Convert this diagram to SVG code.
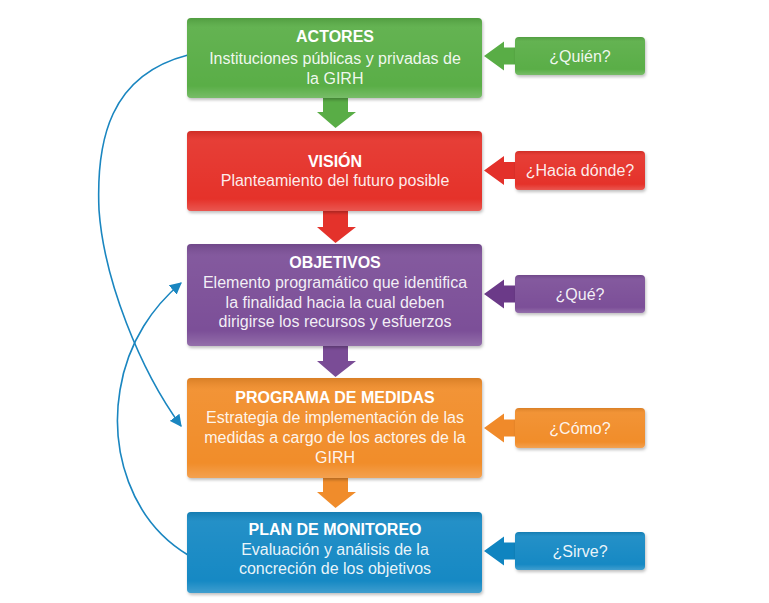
<svg xmlns="http://www.w3.org/2000/svg" width="769" height="603" viewBox="0 0 769 603">
<defs>
<style>
.t{font-family:"Liberation Sans",Arial,sans-serif;font-size:16px;fill:#fff;text-anchor:middle}
.b{font-weight:bold}
.l{fill-opacity:0.92}
.box{filter:url(#sh)}
.ov{fill:url(#shade)}
.con{fill:none;stroke:#1a86c0;stroke-width:1.6;marker-end:url(#ah)}
</style>
<linearGradient id="shade" x1="0" y1="0" x2="0" y2="1">
<stop offset="0" stop-color="#000" stop-opacity="0.10"/>
<stop offset="0.12" stop-color="#fff" stop-opacity="0.06"/>
<stop offset="0.85" stop-color="#fff" stop-opacity="0"/>
<stop offset="1" stop-color="#fff" stop-opacity="0.18"/>
</linearGradient>
<filter id="sh" x="-5%" y="-10%" width="110%" height="125%">
<feDropShadow dx="1" dy="2" stdDeviation="1.5" flood-color="#000" flood-opacity="0.25"/>
</filter>
<marker id="ah" markerWidth="12" markerHeight="12" refX="9" refY="5" orient="auto" markerUnits="userSpaceOnUse" viewBox="0 0 10 10">
<path d="M0,0 L10,5 L0,10 Z" fill="#1a86c0"/>
</marker>
</defs>
<rect width="769" height="603" fill="#fff"/>

<g id="connectors">
<path class="con" d="M188,55 C110,75 96,140 99,210 C104,280 140,370 181,426"/>
<path class="con" d="M188,555 C130,520 110,450 120,390 C128,340 155,305 181,283"/>
<polygon fill="#59ad46" points="323,98 348,98 348,112 356,112 335.5,128 317,112 323,112"/>
<polygon fill="#e4322b" points="323,211 348,211 348,227 356,227 335.5,243 317,227 323,227"/>
<polygon fill="#7a4c96" points="323,346 348,346 348,361 356,361 335.5,377 317,361 323,361"/>
<polygon fill="#f08c2b" points="323,478 348,478 348,492 356,492 335.5,508 317,492 323,492"/>
<polygon fill="#59ad46" points="484,56 504,41.5 504,47.5 518,47.5 518,64.5 504,64.5 504,70.5"/>
<polygon fill="#e3302a" points="484,170.5 504,156 504,162 518,162 518,179 504,179 504,185"/>
<polygon fill="#6b3a88" points="484,294 504,279.5 504,285.5 518,285.5 518,302.5 504,302.5 504,308.5"/>
<polygon fill="#f08a2a" points="484,428 504,413.5 504,419.5 518,419.5 518,436.5 504,436.5 504,442.5"/>
<polygon fill="#0f84c0" points="484,551 504,536.5 504,542.5 518,542.5 518,559.5 504,559.5 504,565.5"/>
</g>

<g id="actores">
<rect class="box" x="187" y="18" width="295" height="80" rx="4" fill="#5aae47"/>
<rect class="ov" x="187" y="18" width="295" height="80" rx="4"/>
<text class="t b" x="335" y="42">ACTORES</text>
<text class="t l" x="335" y="64">Instituciones públicas y privadas de</text>
<text class="t l" x="335" y="84">la GIRH</text>
</g>
<g id="vision">
<rect class="box" x="187" y="131" width="295" height="80" rx="4" fill="#e5332a"/>
<rect class="ov" x="187" y="131" width="295" height="80" rx="4"/>
<text class="t b" x="335" y="167">VISIÓN</text>
<text class="t l" x="335" y="186">Planteamiento del futuro posible</text>
</g>
<g id="objetivos">
<rect class="box" x="187" y="244" width="295" height="102" rx="4" fill="#7c4f98"/>
<rect class="ov" x="187" y="244" width="295" height="102" rx="4"/>
<text class="t b" x="335" y="268">OBJETIVOS</text>
<text class="t l" x="335" y="288">Elemento programático que identifica</text>
<text class="t l" x="335" y="308">la finalidad hacia la cual deben</text>
<text class="t l" x="335" y="327">dirigirse los recursos y esfuerzos</text>
</g>
<g id="programa">
<rect class="box" x="187" y="378" width="295" height="100" rx="4" fill="#f18d2c"/>
<rect class="ov" x="187" y="378" width="295" height="100" rx="4"/>
<text class="t b" x="335" y="403">PROGRAMA DE MEDIDAS</text>
<text class="t l" x="335" y="423">Estrategia de implementación de las</text>
<text class="t l" x="335" y="443">medidas a cargo de los actores de la</text>
<text class="t l" x="335" y="463">GIRH</text>
</g>
<g id="plan">
<rect class="box" x="187" y="512" width="295" height="81" rx="4" fill="#1289c4"/>
<rect class="ov" x="187" y="512" width="295" height="81" rx="4"/>
<text class="t b" x="335" y="535">PLAN DE MONITOREO</text>
<text class="t l" x="335" y="555">Evaluación y análisis de la</text>
<text class="t l" x="335" y="574">concreción de los objetivos</text>
</g>

<g id="quien">
<rect class="box" x="515" y="37" width="130" height="38" rx="4" fill="#5aae47"/>
<rect class="ov" x="515" y="37" width="130" height="38" rx="4"/>
<text class="t l" x="580" y="62">¿Quién?</text>
</g>
<g id="hacia">
<rect class="box" x="515" y="151" width="130" height="39" rx="4" fill="#e5332a"/>
<rect class="ov" x="515" y="151" width="130" height="39" rx="4"/>
<text class="t l" x="580" y="176">¿Hacia dónde?</text>
</g>
<g id="que">
<rect class="box" x="515" y="275" width="130" height="38" rx="4" fill="#7c4f98"/>
<rect class="ov" x="515" y="275" width="130" height="38" rx="4"/>
<text class="t l" x="580" y="300">¿Qué?</text>
</g>
<g id="como">
<rect class="box" x="515" y="408" width="130" height="40" rx="4" fill="#f18d2c"/>
<rect class="ov" x="515" y="408" width="130" height="40" rx="4"/>
<text class="t l" x="580" y="434">¿Cómo?</text>
</g>
<g id="sirve">
<rect class="box" x="515" y="532" width="130" height="38" rx="4" fill="#1289c4"/>
<rect class="ov" x="515" y="532" width="130" height="38" rx="4"/>
<text class="t l" x="580" y="557">¿Sirve?</text>
</g>
</svg>
